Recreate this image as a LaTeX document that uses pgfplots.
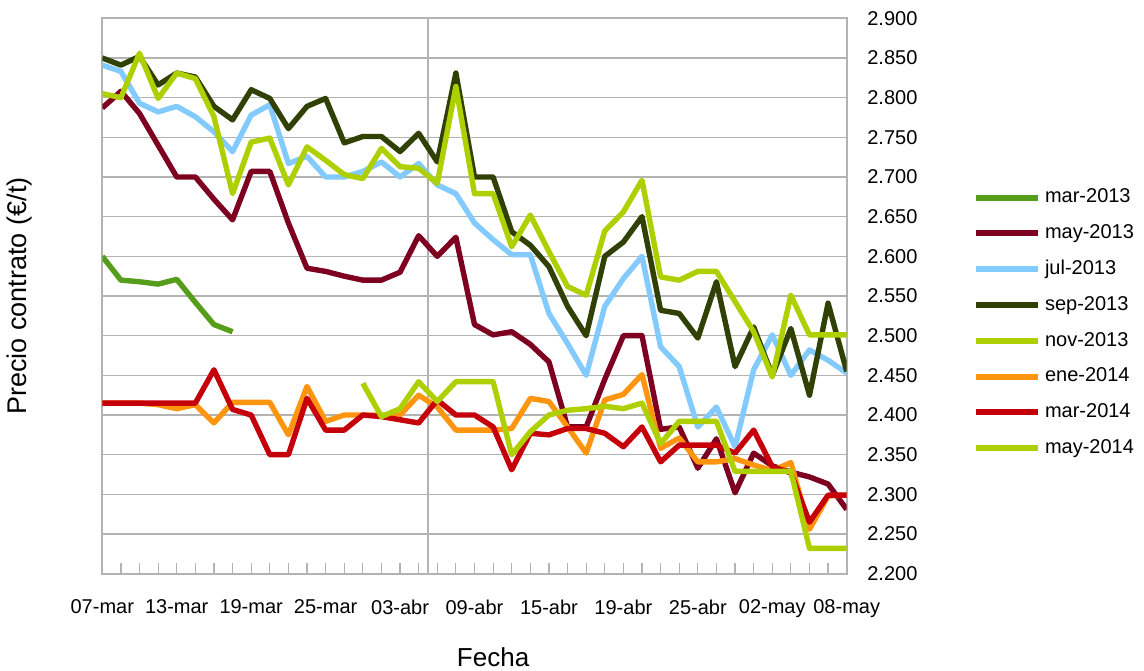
\documentclass[border=0pt]{standalone}
\usepackage{pgfplots}
\usepackage{pgfplotstable}
\pgfplotsset{compat=1.18}
\usepackage{fontspec}
\setmainfont{Liberation Sans}
\definecolor{cmarA}{HTML}{579D1C}
\definecolor{cmayA}{HTML}{7E0021}
\definecolor{cjulA}{HTML}{83CAFF}
\definecolor{csepA}{HTML}{314004}
\definecolor{cnovA}{HTML}{AECF00}
\definecolor{ceneB}{HTML}{FF950E}
\definecolor{cmarB}{HTML}{C5000B}
\definecolor{cmayB}{HTML}{AECF00}
\definecolor{gridgray}{HTML}{B3B3B3}

\pgfplotstableread{
i  marA mayA julA sepA novA eneB marB mayB
0  2600 2787 2841 2850 2805 2415 2415 nan
1  2570 2808 2833 2841 2800 2415 2415 nan
2  2568 2780 2793 2852 2856 2415 2415 nan
3  2565 2740 2782 2816 2799 2413 2415 nan
4  2571 2700 2789 2831 2831 2408 2415 nan
5  2542 2700 2776 2826 2824 2413 2415 nan
6  2514 2672 2757 2789 2776 2390 2457 nan
7  2505 2646 2732 2772 2679 2416 2407 nan
8  nan  2707 2778 2810 2744 2416 2400 nan
9  nan  2707 2791 2799 2749 2416 2350 nan
10 nan  2642 2717 2761 2690 2375 2350 nan
11 nan  2585 2726 2789 2738 2436 2421 nan
12 nan  2581 2700 2799 2721 2392 2381 nan
13 nan  2575 2700 2743 2703 2400 2381 nan
14 nan  2570 2707 2751 2698 2400 2400 2440
15 nan  2570 2719 2751 2736 2400 2398 2398
16 nan  2580 2700 2732 2713 2400 2394 2408
17 nan  2626 2717 2755 2711 2425 2390 2442
18 nan  2600 2690 2719 2692 2410 2419 2417
19 nan  2624 2679 2831 2814 2381 2400 2442
20 nan  2514 2642 2700 2679 2381 2400 2442
21 nan  2501 2621 2700 2679 2381 2385 2442
22 nan  2505 2602 2631 2612 2383 2331 2350
23 nan  2489 2602 2614 2652 2421 2377 2379
24 nan  2467 2528 2587 2606 2417 2375 2400
25 nan  2385 2490 2537 2562 2385 2383 2406
26 nan  2385 2450 2500 2551 2352 2383 2408
27 nan  2445 2537 2600 2632 2419 2377 2411
28 nan  2500 2572 2618 2656 2426 2360 2408
29 nan  2500 2600 2650 2696 2451 2385 2415
30 nan  2382 2486 2532 2574 2358 2341 2364
31 nan  2385 2461 2528 2570 2371 2362 2392
32 nan  2333 2385 2497 2581 2341 2362 2392
33 nan  2370 2410 2568 2581 2341 2362 2392
34 nan  2302 2360 2461 2543 2345 2352 2329
35 nan  2352 2457 2511 2505 2337 2381 2329
36 nan  2336 2501 2450 2448 2330 2335 2329
37 nan  2328 2450 2509 2551 2340 2327 2329
38 nan  2322 2482 2425 2501 2256 2265 2232
39 nan  2313 2469 2541 2501 2298 2299 2232
40 nan  2281 2453 2455 2501 2299 2299 2232
}\datatable

\begin{document}
\begin{tikzpicture}
\begin{axis}[
  scale only axis, width=372.2pt, height=277.7pt,
  xmin=0, xmax=40, ymin=2200, ymax=2900,
  xtick={0,4,...,40},
  xticklabels={07-mar,13-mar,19-mar,25-mar,03-abr,09-abr,15-abr,19-abr,25-abr,02-may,08-may},
  minor xtick={1,...,39},
  ytick={2200,2250,...,2900},
  xtick pos=bottom, ytick pos=right, yticklabel pos=right,
  tick align=inside,
  major tick length=5.5pt, minor tick length=5.5pt,
  ymajorgrids, grid style={gridgray, line width=0.65pt},
  axis line style={gridgray, line width=0.9pt},
  every tick/.style={gridgray, line width=0.6pt},
  scaled y ticks=false,
  yticklabel style={/pgf/number format/.cd, 1000 sep={.}, fixed, /tikz/.cd, xshift=6.8pt},
  /pgf/number format/assume math mode=true,
  tick label style={font=\fontsize{10}{12}\selectfont, text=black},
  xticklabel style={yshift=-9.5pt},
  xlabel={Fecha},
  xlabel style={font=\fontsize{13}{15}\selectfont, at={(axis description cs:0.525,-0.15)}, anchor=center},
  ylabel={Precio contrato (€/t)},
  ylabel style={font=\fontsize{13.5}{16}\selectfont, at={(axis description cs:-0.1106,0.5)}, anchor=center, rotate=0},
  legend style={draw=none, fill=none, inner sep=0pt, outer sep=0pt,
    at={(axis description cs:1.1697,0.702)}, anchor=north west,
    font=\fontsize{10}{12}\selectfont, row sep=4.2pt,
    nodes={text height=7.5pt, text depth=2.2pt, inner sep=2pt}},
  legend cell align=left,
  legend image code/.code={\draw[#1, line width=3pt] (0pt,0pt) -- (31pt,0pt);},
  every axis plot/.append style={line width=2.7pt, line join=round, mark=none},
  unbounded coords=discard,
]
\draw[gridgray, line width=0.65pt] (axis cs:17.5,2200) -- (axis cs:17.5,2900);
\pgfplotsinvokeforeach{2200,2250,2300,2350,2400,2450,2500,2550,2600,2650,2700,2750,2800,2850,2900}{
  \draw[gridgray, line width=0.6pt] (axis cs:40,#1) -- ++(6.5pt,0pt);
}
\coordinate (O) at (rel axis cs:0,0);
\addplot[cmarA] table[x=i, y=marA] {\datatable};
\addplot[cmayA] table[x=i, y=mayA] {\datatable};
\addplot[cjulA] table[x=i, y=julA] {\datatable};
\addplot[csepA] table[x=i, y=sepA] {\datatable};
\addplot[cnovA] table[x=i, y=novA] {\datatable};
\addplot[ceneB] table[x=i, y=eneB] {\datatable};
\addplot[cmarB] table[x=i, y=marB] {\datatable};
\addplot[cmayB] table[x=i, y=mayB] {\datatable};
\legend{mar-2013,may-2013,jul-2013,sep-2013,nov-2013,ene-2014,mar-2014,may-2014}
\end{axis}
\pgfresetboundingbox
\path[use as bounding box] (O) ++(-51.15pt,-48.15pt) rectangle ++(572pt,335pt);
\end{tikzpicture}
\end{document}
